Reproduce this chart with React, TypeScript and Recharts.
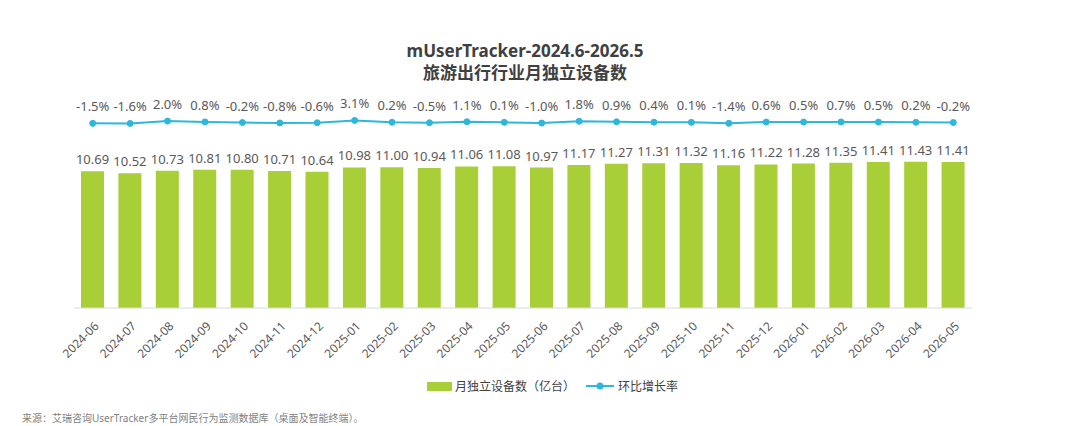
import React from 'react';
import { ComposedChart, Bar, Line, XAxis, YAxis, LabelList } from 'recharts';

const months = ['2024-06','2024-07','2024-08','2024-09','2024-10','2024-11','2024-12','2025-01','2025-02','2025-03','2025-04','2025-05','2025-06','2025-07','2025-08','2025-09','2025-10','2025-11','2025-12','2026-01','2026-02','2026-03','2026-04','2026-05'];
const devices = [10.69,10.52,10.73,10.81,10.80,10.71,10.64,10.98,11.00,10.94,11.06,11.08,10.97,11.17,11.27,11.31,11.32,11.16,11.22,11.28,11.35,11.41,11.43,11.41];
const growth = [-1.5,-1.6,2.0,0.8,-0.2,-0.8,-0.6,3.1,0.2,-0.5,1.1,0.1,-1.0,1.8,0.9,0.4,0.1,-1.4,0.6,0.5,0.7,0.5,0.2,-0.2];

const barName = '月独立设备数（亿台）';
const lineName = '环比增长率';
const BAR_COLOR = '#A8CF38';
const LINE_COLOR = '#2DB7DC';
const FONT = '"Noto Sans", "Noto Sans CJK SC", sans-serif';

const data = months.map((m, i) => ({ month: m, devices: devices[i], growth: growth[i] }));

const XTick = (props: any) => {
  const { x, y, payload } = props;
  return (
    <g transform={`translate(${x + 4},${y + 8})`}>
      <text textAnchor="end" transform="rotate(-45)" fontSize={12} fill="#595959" fontFamily={FONT} dy={4}>
        {payload.value}
      </text>
    </g>
  );
};

export default function App() {
  return (
    <div style={{ position: 'absolute', left: 0, top: 0, width: 1076, height: 426, background: '#fff', fontFamily: FONT }}>
      <div style={{ position: 'absolute', left: 0, top: 40, width: 1050, textAlign: 'center', fontWeight: 700, fontSize: 17, lineHeight: '22px', color: '#404040' }}>
        <div>mUserTracker-2024.6-2026.5</div>
        <div>旅游出行行业月独立设备数</div>
      </div>
      <ComposedChart width={1076} height={426} data={data} margin={{ top: 52, right: 104, bottom: 58, left: 74 }}>
        <XAxis dataKey="month" tick={<XTick />} tickLine={false} axisLine={{ stroke: '#D9D9D9' }} interval={0} height={60} />
        <YAxis yAxisId="bar" hide domain={[0, 20]} width={0} />
        <YAxis yAxisId="line" hide orientation="right" domain={[-290, 110]} width={0} />
        <Bar yAxisId="bar" dataKey="devices" name={barName} fill={BAR_COLOR} barSize={23} isAnimationActive={false}>
          <LabelList dataKey="devices" position="top" offset={7} fill="#595959" fontSize={13} fontFamily={FONT} formatter={(v: any) => Number(v).toFixed(2)} />
        </Bar>
        <Line yAxisId="line" dataKey="growth" name={lineName} stroke={LINE_COLOR} strokeWidth={2} dot={{ r: 3, fill: LINE_COLOR, stroke: LINE_COLOR, strokeWidth: 1 }} activeDot={false} isAnimationActive={false}>
          <LabelList dataKey="growth" position="top" offset={12} fill="#595959" fontSize={13} fontFamily={FONT} formatter={(v: any) => `${Number(v).toFixed(1)}%`} />
        </Line>
      </ComposedChart>
      <div style={{ position: 'absolute', left: 427, top: 377, display: 'flex', alignItems: 'center', fontSize: 12, color: '#404040', whiteSpace: 'nowrap' }}>
        <span style={{ display: 'inline-block', width: 25, height: 9, background: BAR_COLOR, marginRight: 3 }} />
        <span style={{ marginRight: 11 }}>{barName}</span>
        <svg width={28} height={10} style={{ marginRight: 4 }}>
          <line x1={0} y1={5} x2={28} y2={5} stroke={LINE_COLOR} strokeWidth={2} />
          <circle cx={14} cy={5} r={3.5} fill={LINE_COLOR} />
        </svg>
        <span>{lineName}</span>
      </div>
      <div style={{ position: 'absolute', left: 22, top: 410, fontSize: 10, color: '#7F7F7F' }}>
        来源：艾瑞咨询UserTracker多平台网民行为监测数据库（桌面及智能终端）。
      </div>
    </div>
  );
}
